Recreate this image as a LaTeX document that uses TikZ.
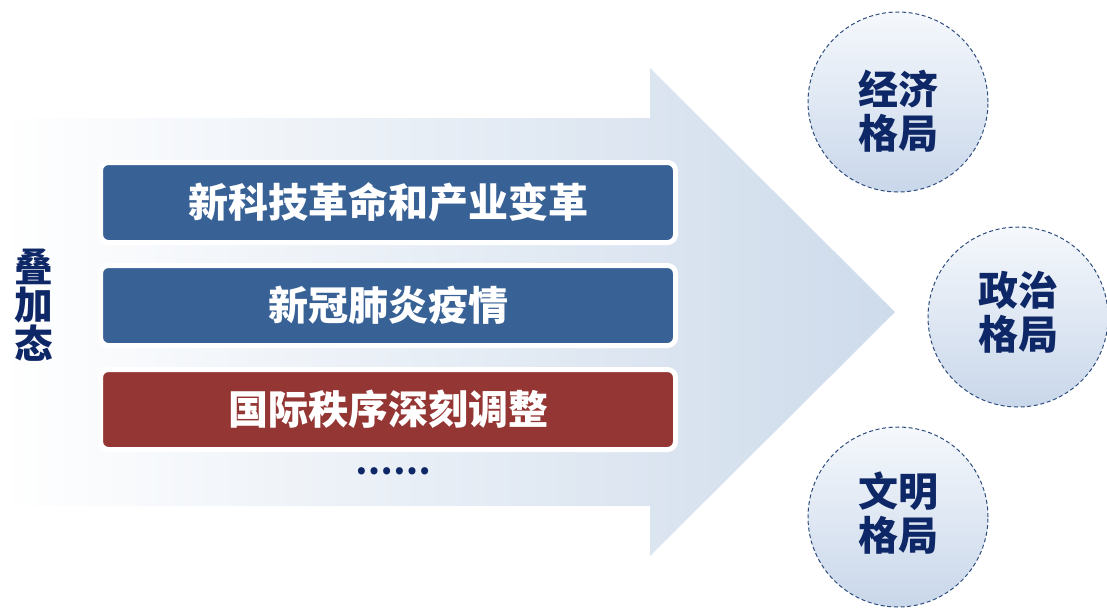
\documentclass[tikz,border=0pt]{standalone}
\usepackage{fontspec}
\newfontfamily\cjk{Noto Sans CJK SC}
\definecolor{arrowblue}{HTML}{CEDBEB}
\definecolor{barblue}{HTML}{386196}
\definecolor{barred}{HTML}{943634}
\definecolor{navy}{HTML}{0E2766}
\definecolor{ringtop}{HTML}{F5F8FC}
\definecolor{ringbot}{HTML}{C9D7EA}
\definecolor{ringline}{HTML}{2E4D7E}
\begin{document}
\begin{tikzpicture}[x=0.75pt,y=-0.75pt,
    bar/.style={draw=white, line width=3.75pt, rounded corners=6pt,
        minimum width=431.25pt, minimum height=60pt, inner sep=0pt, text=white,
        font=\cjk\bfseries\fontsize{30}{30}\selectfont},
    ring/.style={circle, draw=ringline, line width=0.75pt, dash pattern=on 3pt off 2pt,
        top color=ringtop, bottom color=ringbot, minimum size=135pt, inner sep=0pt},
    ringtext/.style={align=center, text=navy,
        font=\cjk\bfseries\fontsize{30}{33}\selectfont}]
    \useasboundingbox (0,0) rectangle (1107,608);

    % big arrow
    \shade[left color=white, right color=arrowblue]
        (0,118) -- (650,118) -- (650,68) -- (895,312) -- (650,556) -- (650,506) -- (0,506) -- cycle;

    % bars
    \node[bar, fill=barblue] (tech) at (388,202.5) {新科技革命和产业变革};
    \node[bar, fill=barblue] (covid) at (388,305.5) {新冠肺炎疫情};
    \node[bar, fill=barred] (order) at (388,409.5) {国际秩序深刻调整};
    \node[text=navy, font=\cjk\bfseries\fontsize{25}{25}\selectfont] (more) at (393,471) {……};

    \node[align=center, text=navy, font=\cjk\bfseries\fontsize{29}{29}\selectfont]
        (stack) at (34,305) {叠\\加\\态};

    % rings
    \foreach \name/\x/\y/\dy/\txt in {econ/898/102/9/经济, polit/1018/317/-4.5/政治, civil/898/517/-4/文明} {
        \node[ring] (\name) at (\x,\y) {};
        \node[ringtext] (\name-t) at (\x,\y+\dy) {\txt\\格局};
    }
\end{tikzpicture}
\end{document}
